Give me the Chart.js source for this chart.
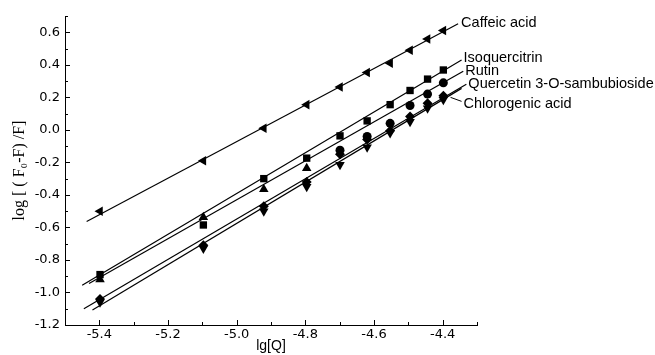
<!DOCTYPE html>
<html>
<head>
<meta charset="utf-8">
<script src="https://cdn.jsdelivr.net/npm/chart.js@4.4.1/dist/chart.umd.min.js"></script>
<style>
    html, body { margin: 0; padding: 0; background: #fff; }
    #wrap { width: 655px; height: 355px; }
</style>
</head>
<body>
<div id="wrap"><canvas id="sternChart"></canvas></div>
<script>
// lg[Q] of the quencher concentrations
const lgQ = [-5.398, -5.097, -4.921, -4.796, -4.699, -4.620, -4.553, -4.495, -4.444, -4.398];

// log[(F0-F)/F] per compound
const caffeicAcid   = [-0.50, -0.19, 0.01, 0.155, 0.263, 0.353, 0.41, 0.49, 0.558, 0.611];
const isoquercitrin = [-0.89, -0.585, -0.30, -0.174, -0.037, 0.055, 0.155, 0.242, 0.312, 0.368];
const rutin         = [-0.92, -0.537, -0.365, -0.236, -0.125, -0.041, 0.04, 0.15, 0.22, 0.289];
const quercetinSamb = [-1.04, -0.71, -0.47, -0.32, -0.15, -0.06, -0.005, 0.082, 0.164, 0.209];
const chlorogenic   = [-1.06, -0.73, -0.50, -0.35, -0.215, -0.107, -0.02, 0.05, 0.133, 0.185];

// fitted lines, end points: [lgQ, log]
const caffeicFit       = [[-5.437, -0.564], [-4.355, 0.652]];
const isoquercitrinFit = [[-5.450, -0.955], [-4.345, 0.430]];
const rutinFit         = [[-5.430, -0.945], [-4.340, 0.360]];
const quercetinFit     = [[-5.445, -1.100], [-4.331, 0.280]];
const chlorogenicFit   = [[-5.420, -1.108], [-4.345, 0.255]];

const xTicks = [-5.4, -5.2, -5.0, -4.8, -4.6, -4.4];
const xMinor = [-5.5, -5.3, -5.1, -4.9, -4.7, -4.5, -4.3];
const yTicks = [-1.2, -1.0, -0.8, -0.6, -0.4, -0.2, 0.0, 0.2, 0.4, 0.6];
const yMinor = [-1.1, -0.9, -0.7, -0.5, -0.3, -0.1, 0.1, 0.3, 0.5, 0.7];

const toPoints = (ys) => ys.map((v, i) => ({ x: lgQ[i], y: v }));
const toLine = (pts) => pts.map(p => ({ x: p[0], y: p[1] }));

function markers(ys, style, rotation, radius) {
    return {
        data: toPoints(ys),
        showLine: false,
        pointStyle: style,
        pointRotation: rotation,
        pointRadius: radius,
        pointHoverRadius: radius,
        backgroundColor: '#000',
        borderColor: '#000',
        borderWidth: 0
    };
}

function fitLine(pts, label, dx, dy) {
    return {
        data: toLine(pts),
        showLine: true,
        pointRadius: 0,
        borderColor: '#000',
        borderWidth: 1.2,
        label: label,
        labelOffset: [dx, dy]
    };
}

// Origin style ticks pointing into the plot
const inwardTicks = {
    id: 'inwardTicks',
    afterDraw(chart) {
        const { ctx, chartArea, scales: { x, y } } = chart;
        ctx.save();
        ctx.strokeStyle = '#000';
        ctx.lineWidth = 1;
        ctx.beginPath();
        const xt = (v, len) => {
            const px = Math.round(x.getPixelForValue(v)) + 0.5;
            ctx.moveTo(px, chartArea.bottom);
            ctx.lineTo(px, chartArea.bottom - len);
        };
        const yt = (v, len) => {
            const py = Math.round(y.getPixelForValue(v)) + 0.5;
            ctx.moveTo(chartArea.left, py);
            ctx.lineTo(chartArea.left + len, py);
        };
        xTicks.forEach(v => xt(v, 5));
        xMinor.forEach(v => xt(v, 3));
        yTicks.forEach(v => yt(v, 5));
        yMinor.forEach(v => yt(v, 3));
        ctx.stroke();
        ctx.restore();
    }
};

// compound names written at the end of each fitted line
const lineLabels = {
    id: 'lineLabels',
    afterDatasetsDraw(chart) {
        const { ctx, scales: { x, y } } = chart;
        ctx.save();
        ctx.fillStyle = '#000';
        ctx.strokeStyle = '#000';
        ctx.lineWidth = 1;
        ctx.font = '14.5px "Liberation Sans", Arial, sans-serif';
        ctx.textBaseline = 'middle';
        chart.data.datasets.forEach(ds => {
            if (!ds.label) return;
            const end = ds.data[ds.data.length - 1];
            const px = x.getPixelForValue(end.x) + ds.labelOffset[0];
            const py = y.getPixelForValue(end.y) + ds.labelOffset[1];
            if (ds.label === 'Chlorogenic acid') {
                ctx.beginPath();
                ctx.moveTo(px - 2, py - 3);
                ctx.lineTo(px - 13, py - 7);
                ctx.stroke();
            }
            ctx.fillText(ds.label, px, py);
        });
        ctx.restore();
    }
};

const tickFont = { family: '"DejaVu Sans", sans-serif', size: 13 };

new Chart(document.getElementById('sternChart'), {
    type: 'scatter',
    data: {
        datasets: [
            markers(caffeicAcid, 'triangle', -90, 5.5),
            markers(isoquercitrin, 'rect', 0, 5.2),
            markers(rutin, ['triangle', 'triangle', 'triangle', 'triangle', 'circle', 'circle', 'circle', 'circle', 'circle', 'circle'], 0,
                [5.5, 5.5, 5.5, 5.5, 4.5, 4.5, 4.5, 4.5, 4.5, 4.5]),
            markers(quercetinSamb, 'rectRot', 0, 5),
            markers(chlorogenic, 'triangle', 180, 5.5),
            fitLine(caffeicFit, 'Caffeic acid', 3, -1),
            fitLine(isoquercitrinFit, 'Isoquercitrin', 2, -2),
            fitLine(rutinFit, 'Rutin', 2, 0),
            fitLine(quercetinFit, 'Quercetin 3-O-sambubioside', 2, 0),
            fitLine(chlorogenicFit, 'Chlorogenic acid', 2, 16)
        ]
    },
    options: {
        responsive: true,
        maintainAspectRatio: false,
        animation: false,
        layout: { padding: { top: 16, right: 178, left: 0, bottom: 0 } },
        plugins: {
            legend: { display: false },
            tooltip: { enabled: false }
        },
        scales: {
            x: {
                type: 'linear',
                min: -5.5,
                max: -4.3,
                afterBuildTicks: (s) => { s.ticks = xTicks.map(v => ({ value: v })); },
                afterFit: (s) => { s.height = 30; },
                grid: { display: false, drawTicks: false, tickLength: 0 },
                border: { color: '#000', width: 1 },
                ticks: { color: '#000', font: tickFont, padding: 2, callback: (v) => v.toFixed(1) },
                title: {
                    display: true,
                    text: 'lg[Q]',
                    color: '#000',
                    font: { family: '"Liberation Sans", Arial, sans-serif', size: 14 },
                    padding: { top: 0, bottom: 0 }
                }
            },
            y: {
                type: 'linear',
                min: -1.2,
                max: 0.7,
                afterBuildTicks: (s) => { s.ticks = yTicks.map(v => ({ value: v })); },
                afterFit: (s) => { s.width = 65; },
                grid: { display: false, drawTicks: false, tickLength: 0 },
                border: { color: '#000', width: 1 },
                ticks: { color: '#000', font: tickFont, padding: 5, callback: (v) => v.toFixed(1) },
                title: {
                    display: true,
                    text: 'log [ ( F\u2080-F) /F]',
                    color: '#000',
                    font: { family: '"Liberation Serif", "Times New Roman", serif', size: 16 },
                    padding: { top: 10, bottom: 0 }
                }
            }
        }
    },
    plugins: [inwardTicks, lineLabels]
});
</script>
</body>
</html>
